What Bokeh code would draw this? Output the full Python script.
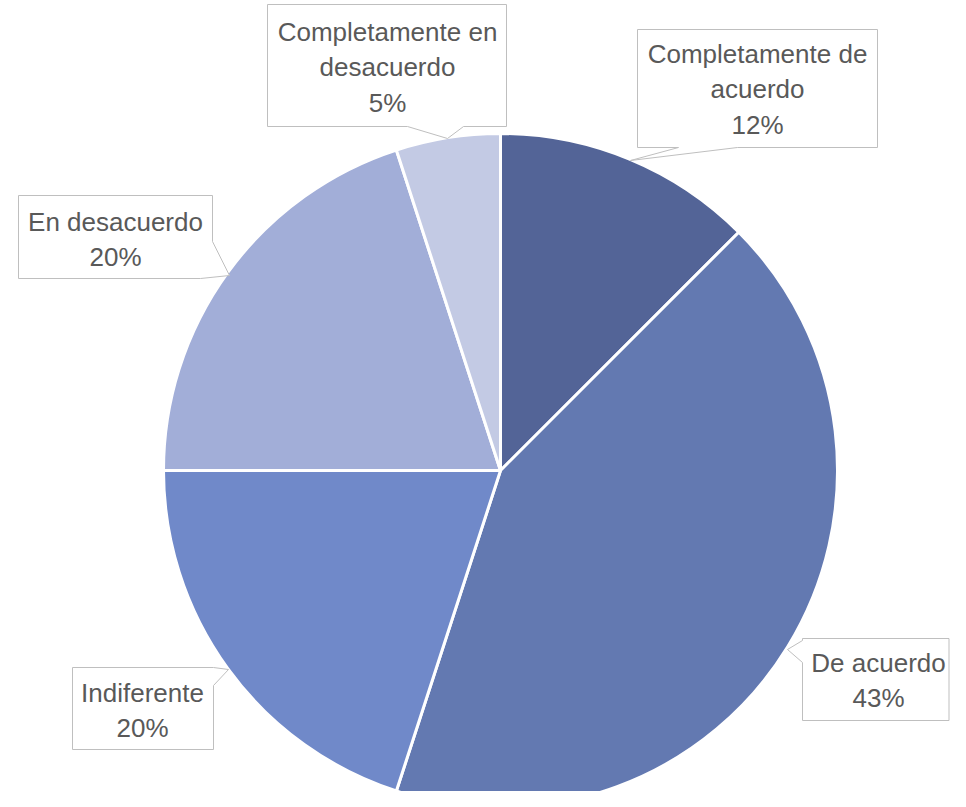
import math
from bokeh.plotting import figure
from bokeh.models import ColumnDataSource, Range1d
from bokeh.core.properties import value
from bokeh.embed import file_html
from bokeh.resources import INLINE

# ---- data ----
categories = ["Completamente de acuerdo", "De acuerdo", "Indiferente",
              "En desacuerdo", "Completamente en desacuerdo"]
shares = [12.5, 42.5, 20.0, 20.0, 5.0]
pct_labels = ["12%", "43%", "20%", "20%", "5%"]
label_lines = ["Completamente de\nacuerdo", "De acuerdo", "Indiferente",
               "En desacuerdo", "Completamente en\ndesacuerdo"]
colors = ["#536497", "#6379b1", "#7089c9", "#a2aed8", "#c3cae4"]

# ---- layout (image pixel coordinates) ----
W, H = 950, 791
def fy(Y):
    return H - Y

CX, CY, R = 500, 470, 337

total = sum(shares)
starts, ends = [], []
cum = 0.0
for s in shares:
    starts.append(math.pi / 2 - 2 * math.pi * cum / total)
    cum += s
    ends.append(math.pi / 2 - 2 * math.pi * cum / total)

src = ColumnDataSource(dict(cat=categories, val=shares, start=starts, end=ends, color=colors))

p = figure(width=W, height=H, x_range=Range1d(0, W), y_range=Range1d(0, H),
           output_backend="svg", toolbar_location=None, min_border=0,
           background_fill_color="white", border_fill_color="white")
p.axis.visible = False
p.xgrid.visible = False
p.ygrid.visible = False
p.outline_line_color = None

p.wedge(x=CX, y=fy(CY), radius=R, start_angle="start", end_angle="end",
        direction="clock", fill_color="color", line_color="white",
        line_width=3, source=src)

# callout boxes (image coords), in the same order as categories
callouts = [
    [(637, 29), (877, 29), (877, 147), (737, 147), (630, 160), (678, 147), (637, 147)],
    [(802, 638), (948.5, 638), (948.5, 720), (802, 720), (802, 662), (787, 649), (802, 640)],
    [(72, 667), (213, 667), (228, 669), (213, 685), (213, 749), (72, 749)],
    [(18, 195), (212, 195), (212, 241), (229, 275), (200, 278), (18, 278)],
    [(267, 4), (506, 4), (506, 126), (463, 126), (447, 138), (407, 126), (267, 126)],
]
text_pos = [(757, 89), (878, 680), (142, 710), (115, 239), (387, 67)]

xs = [[pt[0] for pt in poly] for poly in callouts]
ys = [[fy(pt[1]) for pt in poly] for poly in callouts]
p.patches(xs=xs, ys=ys, fill_color="white", line_color="#bfbfbf", line_width=1)

texts = [f"{l}\n{pc}" for l, pc in zip(label_lines, pct_labels)]
p.text(x=[t[0] for t in text_pos], y=[fy(t[1]) for t in text_pos], text=texts,
       text_font=value("Liberation Sans"), text_font_size="26px",
       text_color="#595959", text_align="center", text_baseline="middle",
       text_line_height=1.18)

open("out.html", "w").write(file_html(p, INLINE))
